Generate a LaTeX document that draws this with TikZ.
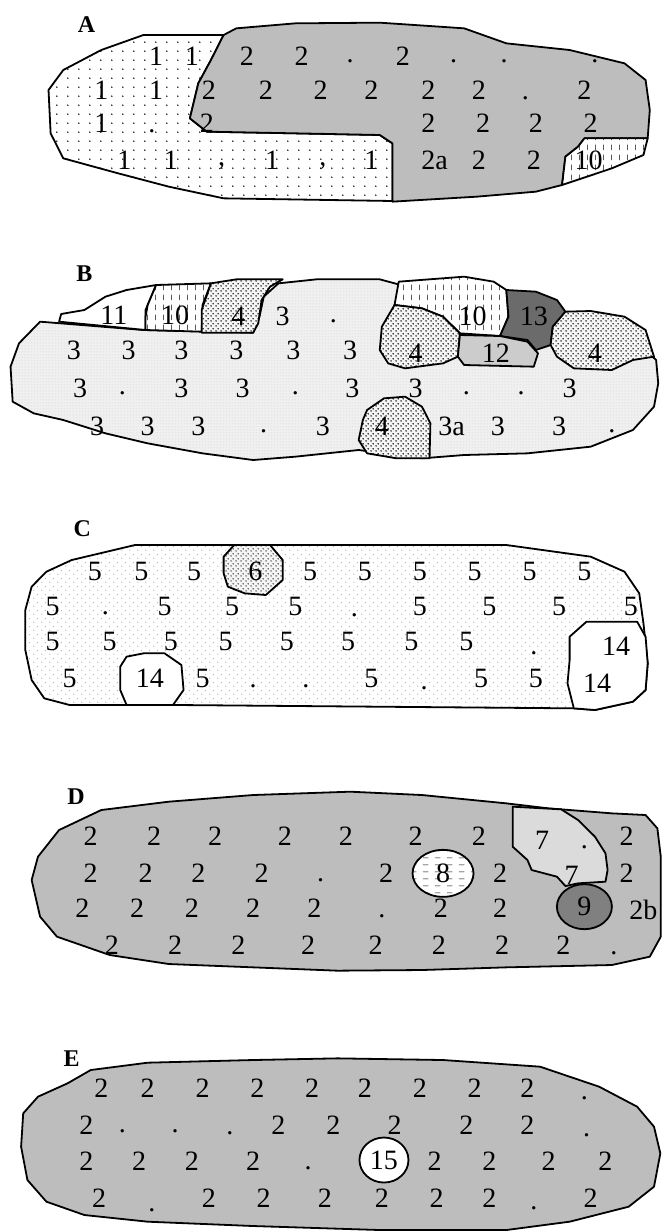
\documentclass[tikz,border=0pt]{standalone}
\usepackage{fontspec}
\setmainfont{Liberation Serif}
\usetikzlibrary{patterns,shapes.geometric}

\definecolor{stone}{gray}{0.74}
\definecolor{paleclay}{gray}{0.86}
\definecolor{clay}{gray}{0.8}
\definecolor{darkclay}{gray}{0.42}
\definecolor{pitclay}{gray}{0.5}

\pgfdeclarepatternformonly{sparsedots}{\pgfqpoint{0pt}{0pt}}{\pgfqpoint{11pt}{9pt}}{\pgfqpoint{11pt}{9pt}}{%
  \pgfpathcircle{\pgfqpoint{2pt}{2pt}}{0.9pt}\pgfusepath{fill}}
\pgfdeclarepatternformonly{finedots}{\pgfqpoint{0pt}{0pt}}{\pgfqpoint{3pt}{3pt}}{\pgfqpoint{3pt}{3pt}}{%
  \pgfpathcircle{\pgfqpoint{1.5pt}{1.5pt}}{0.45pt}\pgfusepath{fill}}
\pgfdeclarepatternformonly{lightdots}{\pgfqpoint{0pt}{0pt}}{\pgfqpoint{8pt}{8pt}}{\pgfqpoint{8pt}{8pt}}{%
  \pgfpathcircle{\pgfqpoint{2pt}{2pt}}{0.6pt}\pgfpathcircle{\pgfqpoint{6pt}{6pt}}{0.6pt}\pgfusepath{fill}}
\pgfdeclarepatternformonly{densedots}{\pgfqpoint{0pt}{0pt}}{\pgfqpoint{5pt}{5pt}}{\pgfqpoint{5pt}{5pt}}{%
  \pgfpathcircle{\pgfqpoint{1.25pt}{1.25pt}}{0.9pt}\pgfpathcircle{\pgfqpoint{3.75pt}{3.75pt}}{0.9pt}\pgfusepath{fill}}
\pgfdeclarepatternformonly{vdashes}{\pgfqpoint{0pt}{0pt}}{\pgfqpoint{8pt}{10pt}}{\pgfqpoint{8pt}{10pt}}{%
  \pgfsetlinewidth{0.7pt}\pgfpathmoveto{\pgfqpoint{4pt}{2pt}}\pgfpathlineto{\pgfqpoint{4pt}{8pt}}\pgfusepath{stroke}}
\pgfdeclarepatternformonly{hdashes}{\pgfqpoint{0pt}{0pt}}{\pgfqpoint{12pt}{7pt}}{\pgfqpoint{12pt}{7pt}}{%
  \pgfsetlinewidth{0.8pt}\pgfpathmoveto{\pgfqpoint{3pt}{3.5pt}}\pgfpathlineto{\pgfqpoint{9pt}{3.5pt}}\pgfusepath{stroke}}

\begin{document}
\begin{tikzpicture}[
    x=0.42194pt, y=-0.33333pt,
    zone/.style={draw, line width=1.8pt, line join=round},
    num/.style={inner sep=0pt, font=\fontsize{28}{28}\selectfont},
    tag/.style={inner sep=0pt, font=\fontsize{24}{24}\selectfont\bfseries},
    pit/.style={draw, ellipse, line width=1.8pt, inner sep=0pt, font=\fontsize{28}{28}\selectfont}
]
\useasboundingbox (0,0) rectangle (1569,3696);

% A
\begin{scope}
\node[tag] (labA) at (205,75) {A};
\draw[zone, preaction={fill=white}, pattern=sparsedots] (530,105) -- (340,105) -- (240,150) -- (150,210) -- (115,270) -- (120,400) -- (150,475) -- (280,520) -- (400,560) -- (530,595) -- (930,603) -- (930,430) -- (900,405) -- (700,400) -- (490,395) -- (450,355) -- (470,250) -- (500,180) -- cycle;
\draw[zone, fill=stone] (530,105) -- (560,85) -- (700,70) -- (900,68) -- (1100,85) -- (1200,130) -- (1350,150) -- (1480,190) -- (1530,240) -- (1540,330) -- (1535,415) -- (1385,415) -- (1370,440) -- (1340,470) -- (1332,555) -- (1270,575) -- (1130,590) -- (930,605) -- (930,430) -- (900,405) -- (700,400) -- (490,395) -- (450,355) -- (470,250) -- (500,180) -- cycle;
\draw[zone, preaction={fill=white}, pattern=vdashes] (1385,415) -- (1535,415) -- (1525,465) -- (1450,505) -- (1332,555) -- (1340,470) -- (1370,440) -- cycle;
\foreach \x/\y/\t [count=\i] in {370/170/1, 455/170/1, 585/170/2, 715/170/2, 830/185/., 955/170/2, 1075/185/., 1195/185/., 1410/185/.,
    240/270/1, 370/270/1, 495/270/2, 630/270/2, 760/270/2, 880/270/2, 1015/270/2, 1135/270/2, 1245/295/., 1385/270/2,
    240/370/1, 360/395/., 490/370/2, 1015/370/2, 1145/370/2, 1270/370/2, 1400/370/2,
    295/480/1, 405/480/1, 525/500/{,}, 645/480/1, 765/500/{,}, 880/480/1, 1030/480/2a, 1135/480/2, 1265/480/2, 1395/480/10}
  \node[num] (A-\i) at (\x,\y) {\t};
\end{scope}

% B
\begin{scope}[yshift=-250pt]
\node[tag] (labB) at (200,70) {B};
\draw[zone, preaction={fill=gray!12}, pattern=finedots, pattern color=gray!80] (95,215) -- (340,240) -- (600,248) -- (615,200) -- (625,140) -- (660,100) -- (750,88) -- (900,88) -- (950,105) -- (1200,130) -- (1350,200) -- (1530,300) -- (1555,330) -- (1560,400) -- (1550,470) -- (1500,540) -- (1400,590) -- (1250,610) -- (1100,615) -- (1000,625) -- (850,600) -- (700,620) -- (600,630) -- (480,610) -- (350,580) -- (250,550) -- (150,510) -- (80,490) -- (30,455) -- (25,350) -- (45,280) -- cycle;
\draw[zone, fill=white] (140,215) -- (145,192) -- (200,180) -- (250,140) -- (300,120) -- (370,105) -- (355,150) -- (345,180) -- (345,240) -- cycle;
\draw[zone, preaction={fill=white}, pattern=vdashes] (370,105) -- (500,100) -- (480,165) -- (478,245) -- (345,240) -- (345,200) -- (350,165) -- cycle;
\draw[zone, preaction={fill=gray!8}, pattern=densedots] (500,100) -- (560,88) -- (670,88) -- (640,110) -- (620,150) -- (612,220) -- (600,248) -- (478,248) -- (478,180) -- cycle;
\draw[zone, preaction={fill=white}, pattern=vdashes] (945,95) -- (1100,80) -- (1170,95) -- (1200,120) -- (1205,200) -- (1185,258) -- (1090,250) -- (1050,200) -- (1000,175) -- (935,165) -- cycle;
\draw[zone, fill=darkclay] (1200,120) -- (1270,125) -- (1320,150) -- (1340,185) -- (1310,230) -- (1305,285) -- (1270,300) -- (1250,270) -- (1185,258) -- (1205,200) -- cycle;
\draw[zone, preaction={fill=gray!8}, pattern=densedots] (1340,185) -- (1400,183) -- (1480,200) -- (1530,240) -- (1550,320) -- (1500,330) -- (1450,360) -- (1360,355) -- (1320,320) -- (1305,285) -- (1310,230) -- cycle;
\draw[zone, preaction={fill=gray!8}, pattern=densedots] (935,165) -- (1000,175) -- (1050,200) -- (1090,250) -- (1085,320) -- (1050,340) -- (960,355) -- (920,340) -- (900,300) -- (905,230) -- cycle;
\draw[zone, fill=clay] (1090,255) -- (1185,258) -- (1250,275) -- (1275,310) -- (1265,350) -- (1100,345) -- (1085,320) -- cycle;
\draw[zone, preaction={fill=gray!8}, pattern=densedots] (870,480) -- (910,445) -- (960,440) -- (1000,470) -- (1020,520) -- (1018,625) -- (940,625) -- (870,610) -- (850,570) -- (860,510) -- cycle;
\foreach \x/\y/\t [count=\i] in {270/195/11, 415/195/10, 565/200/4, 670/200/3, 790/215/., 1120/200/10, 1265/200/13, 1410/310/4, 985/310/4, 1175/310/12,
    175/300/3, 305/300/3, 430/300/3, 560/300/3, 695/300/3, 830/300/3,
    190/415/3, 290/430/., 430/415/3, 575/415/3, 700/430/., 835/415/3, 985/415/3, 1105/430/., 1235/430/., 1350/415/3,
    230/530/3, 350/530/3, 470/530/3, 625/545/., 765/530/3, 905/530/4, 1070/530/3a, 1180/530/3, 1325/530/3, 1450/545/.}
  \node[num] (B-\i) at (\x,\y) {\t};
\end{scope}

% C
\begin{scope}[yshift=-510pt]
\node[tag] (labC) at (195,55) {C};
\draw[zone, preaction={fill=white}, pattern=lightdots, pattern color=gray!80] (320,105) -- (1200,105) -- (1400,140) -- (1480,185) -- (1515,250) -- (1525,340) -- (1535,460) -- (1530,540) -- (1500,575) -- (1410,600) -- (1360,595) -- (420,585) -- (165,585) -- (105,565) -- (75,510) -- (60,420) -- (60,300) -- (75,230) -- (110,185) -- (170,150) -- cycle;
\draw[zone, fill=white] (1350,380) -- (1390,335) -- (1510,335) -- (1530,380) -- (1535,460) -- (1530,540) -- (1500,575) -- (1410,600) -- (1360,595) -- (1345,520) -- (1350,450) -- cycle;
\draw[zone, fill=white] (300,440) -- (340,430) -- (390,430) -- (430,465) -- (435,540) -- (410,585) -- (300,585) -- (285,540) -- (285,470) -- cycle;
\draw[zone, preaction={fill=gray!8}, pattern=densedots, pattern color=black!70] (530,140) -- (555,105) -- (640,105) -- (670,150) -- (670,210) -- (630,255) -- (580,250) -- (540,230) -- (530,190) -- cycle;
\foreach \x/\y/\t [count=\i] in {225/185/5, 335/185/5, 460/185/5, 605/185/6, 735/185/5, 865/185/5, 995/185/5, 1125/185/5, 1255/185/5, 1385/185/5,
    125/290/5, 250/310/., 390/290/5, 550/290/5, 700/290/5, 840/315/., 995/290/5, 1160/290/5, 1325/290/5, 1495/290/5,
    125/395/5, 260/395/5, 405/395/5, 535/395/5, 680/395/5, 825/395/5, 975/395/5, 1105/395/5, 1265/430/., 1460/410/14,
    165/505/5, 355/505/14, 480/505/5, 600/530/., 725/530/., 880/505/5, 1005/535/., 1140/505/5, 1270/505/5, 1415/520/14}
  \node[num] (C-\i) at (\x,\y) {\t};
\end{scope}

% D
\begin{scope}[yshift=-770pt]
\node[tag] (labD) at (180,80) {D};
\draw[zone, fill=stone] (240,120) -- (400,95) -- (600,75) -- (830,65) -- (1000,75) -- (1200,100) -- (1300,115) -- (1450,130) -- (1530,135) -- (1558,175) -- (1566,260) -- (1566,500) -- (1540,560) -- (1450,585) -- (1200,592) -- (1000,600) -- (800,602) -- (600,592) -- (400,582) -- (260,555) -- (135,500) -- (95,440) -- (75,330) -- (90,260) -- (140,180) -- cycle;
\draw[zone, fill=paleclay] (1215,110) -- (1330,118) -- (1370,150) -- (1410,200) -- (1435,250) -- (1440,300) -- (1435,335) -- (1370,340) -- (1340,348) -- (1320,320) -- (1260,300) -- (1250,270) -- (1215,230) -- cycle;
\foreach \x/\y/\t [count=\i] in {215/200/2, 365/200/2, 510/200/2, 675/200/2, 820/200/2, 985/200/2, 1135/200/2, 1285/210/7, 1385/232/., 1485/200/2,
    215/310/2, 345/310/2, 470/310/2, 620/310/2, 760/330/., 915/310/2, 1185/310/2, 1355/315/7, 1485/310/2,
    195/415/2, 325/415/2, 455/415/2, 600/415/2, 745/415/2, 905/440/., 1045/415/2, 1185/415/2, 1525/420/2b,
    265/525/2, 415/525/2, 565/525/2, 730/525/2, 890/525/2, 1040/525/2, 1190/525/2, 1335/525/2, 1455/550/.}
  \node[num] (D-\i) at (\x,\y) {\t};
\node[pit, preaction={fill=white}, pattern=hdashes, minimum width=61pt, minimum height=47pt] (pit8) at (1050,310) {8};
\node[pit, fill=pitclay, minimum width=55pt, minimum height=45pt] (pit9) at (1385,410) {9};
\end{scope}

% E
\begin{scope}[yshift=-1000pt]
\node[tag] (labE) at (170,175) {E};
\draw[zone, fill=stone] (215,210) -- (350,188) -- (600,180) -- (800,175) -- (1050,180) -- (1280,200) -- (1420,260) -- (1510,320) -- (1550,380) -- (1565,460) -- (1550,560) -- (1490,620) -- (1350,665) -- (1200,690) -- (900,690) -- (600,678) -- (350,665) -- (200,645) -- (110,605) -- (65,540) -- (50,440) -- (55,340) -- (90,290) -- (160,250) -- cycle;
\foreach \x/\y/\t [count=\i] in {240/265/2, 350/265/2, 480/265/2, 610/265/2, 740/265/2, 865/265/2, 995/265/2, 1125/265/2, 1250/265/2, 1385/295/.,
    205/375/2, 290/395/., 415/395/., 545/400/., 660/375/2, 790/375/2, 935/375/2, 1105/375/2, 1250/375/2, 1390/405/.,
    205/485/2, 330/485/2, 455/485/2, 600/485/2, 730/505/., 1030/485/2, 1160/485/2, 1300/485/2, 1435/485/2,
    235/595/2, 360/630/., 495/595/2, 625/595/2, 770/595/2, 905/595/2, 1035/595/2, 1160/595/2, 1265/625/., 1400/595/2}
  \node[num] (E-\i) at (\x,\y) {\t};
\node[pit, fill=white, minimum width=49pt, minimum height=45pt] (pit15) at (910,480) {15};
\end{scope}
\end{tikzpicture}
\end{document}
